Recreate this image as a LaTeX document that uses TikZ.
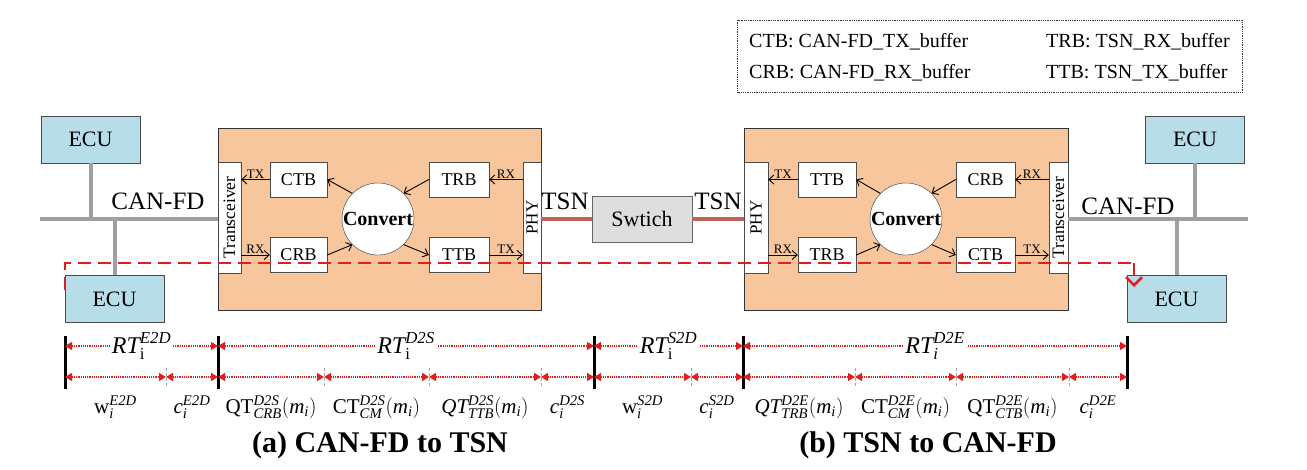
\documentclass[tikz,border=0pt]{standalone}
\usepackage{fix-cm}
\usepackage{fontspec}
\setmainfont{Liberation Serif}
\usetikzlibrary{arrows.meta,calc}
\definecolor{orangebox}{RGB}{248,198,156}
\definecolor{ecublue}{RGB}{183,222,232}
\definecolor{busgrey}{RGB}{160,160,160}
\definecolor{tsnred}{RGB}{192,100,90}
\definecolor{swgrey}{RGB}{222,222,222}
\definecolor{pathred}{RGB}{225,30,30}
\begin{document}
\begin{tikzpicture}[x=1pt,y=-1pt,
  ecu/.style={draw=black!70, fill=ecublue, minimum width=99pt, minimum height=47pt, inner sep=0pt, font=\fontsize{22}{24}\selectfont},
  buf/.style={draw=black!70, fill=white, minimum width=58pt, minimum height=35pt, inner sep=0pt, font=\fontsize{18}{20}\selectfont},
  sidebox/.style={draw=black!70, fill=white, rotate=90, minimum width=111pt, minimum height=23pt, inner sep=0pt, font=\fontsize{17.5}{19}\selectfont},
  gateway/.style={draw=black!80, fill=orangebox, minimum width=323pt, minimum height=182pt, inner sep=0pt},
  conv/.style={circle, draw=black!80, fill=white, minimum size=72pt, inner sep=0pt, font=\bfseries\fontsize{20}{22}\selectfont},
  bus/.style={busgrey, line width=4pt},
  tsnlink/.style={tsnred, line width=4pt},
  iarrow/.style={-{Straight Barb[length=5pt,width=9pt]}, line width=0.9pt},
  txrx/.style={font=\fontsize{13}{14}\selectfont, inner sep=1pt},
  bigtext/.style={font=\fontsize{25}{27}\selectfont, inner sep=0pt},
  legtext/.style={font=\fontsize{20}{22}\selectfont, inner sep=0pt},
  trip/.style={pathred, dash pattern=on 13pt off 7pt, line width=2.5pt},
  tl/.style={pathred, densely dotted, line width=1.2pt, {Triangle[length=7pt,width=8pt]}-{Triangle[length=7pt,width=8pt]}},
  barline/.style={black, line width=3pt},
  tickmark/.style={black!35, densely dashed, line width=1pt},
  lbl/.style={font=\fontsize{21}{23}\selectfont, inner sep=1pt, text=black},
  rtlbl/.style={font=\fontsize{24}{26}\selectfont, fill=white, inner sep=2pt, text=black},
  title/.style={font=\bfseries\fontsize{30}{32}\selectfont, inner sep=0pt}
]
\useasboundingbox (0,0) rectangle (1307,469);

% legend
\node[draw=black!80, densely dotted, line width=0.8pt, minimum width=505pt, minimum height=72pt] (legend) at (990,56) {};
\node[legtext, anchor=west] (leg1) at (749,42) {CTB: CAN-FD\_TX\_buffer};
\node[legtext, anchor=west] (leg2) at (749,73) {CRB: CAN-FD\_RX\_buffer};
\node[legtext, anchor=west] (leg3) at (1046,42) {TRB: TSN\_RX\_buffer};
\node[legtext, anchor=west] (leg4) at (1046,73) {TTB: TSN\_TX\_buffer};

% gateways
\node[gateway] (gw1) at (379.5,219) {};
\node[gateway, minimum width=324pt] (gw2) at (906,219) {};

% left gateway content
\node[sidebox] (trans1) at (229.5,217.5) {Transceiver};
\node[sidebox, minimum height=18pt, font=\fontsize{17}{19}\selectfont] (phy1) at (532,217.5) {PHY};
\node[buf, minimum width=57pt] (ctb1) at (298.5,179.5) {CTB};
\node[buf, minimum width=57pt] (crb1) at (298.5,255) {CRB};
\node[buf, minimum width=60pt] (trb1) at (459,179.5) {TRB};
\node[buf, minimum width=60pt] (ttb1) at (459,255) {TTB};
\node[conv] (conv1) at (378,219) {Convert};

\draw[iarrow] (ctb1.west) -- (trans1.south |- ctb1.west) node[midway, above, txrx] (tx1) {TX};
\draw[iarrow] (trans1.south |- crb1.west) -- (crb1.west) node[midway, above, txrx] (rx1) {RX};
\draw[iarrow] (phy1.north |- trb1.east) -- (trb1.east) node[midway, above, txrx] (rx2) {RX};
\draw[iarrow] (ttb1.east) -- (phy1.north |- ttb1.east) node[midway, above, txrx] (tx2) {TX};
\draw[iarrow] (crb1.east) -- (conv1.225);
\draw[iarrow] (conv1.135) -- (ctb1.east);
\draw[iarrow] (trb1.west) -- (conv1.45);
\draw[iarrow] (conv1.315) -- (ttb1.west);

% right gateway content
\node[sidebox, minimum height=24pt, font=\fontsize{17}{19}\selectfont] (phy2) at (756,217.5) {PHY};
\node[sidebox, minimum height=19pt] (trans2) at (1058.5,217.5) {Transceiver};
\node[buf] (ttb2) at (827,179.5) {TTB};
\node[buf] (trb2) at (827,255) {TRB};
\node[buf, minimum width=59pt] (crb2) at (985.5,179.5) {CRB};
\node[buf, minimum width=59pt] (ctb2) at (985.5,255) {CTB};
\node[conv] (conv2) at (906,219) {Convert};

\draw[iarrow] (ttb2.west) -- (phy2.south |- ttb2.west) node[midway, above, txrx] (tx3) {TX};
\draw[iarrow] (phy2.south |- trb2.west) -- (trb2.west) node[midway, above, txrx] (rx3) {RX};
\draw[iarrow] (trans2.north |- crb2.east) -- (crb2.east) node[midway, above, txrx] (rx4) {RX};
\draw[iarrow] (ctb2.east) -- (trans2.north |- ctb2.east) node[midway, above, txrx] (tx4) {TX};
\draw[iarrow] (trb2.east) -- (conv2.225);
\draw[iarrow] (conv2.135) -- (ttb2.east);
\draw[iarrow] (crb2.west) -- (conv2.45);
\draw[iarrow] (conv2.315) -- (ctb2.west);

% switch and TSN links
\node[draw=black!60, fill=swgrey, minimum width=100pt, minimum height=46pt, inner sep=0pt, font=\fontsize{22}{24}\selectfont] (sw) at (642,219) {Swtich};
\draw[tsnlink] (phy1.south |- sw.west) -- (sw.west);
\draw[tsnlink] (sw.east) -- (phy2.north |- sw.east);
\node[bigtext] (tsn1) at (565,201) {TSN};
\node[bigtext] (tsn2) at (718,201) {TSN};

% CAN-FD buses
\coordinate (busL) at (40,219);
\coordinate (busR) at (1248,219);
\node[ecu] (ecu1) at (90.5,139.5) {ECU};
\node[ecu] (ecu2) at (114.5,299) {ECU};
\node[ecu] (ecu3) at (1195,139.5) {ECU};
\node[ecu] (ecu4) at (1176.5,299) {ECU};
\draw[bus] (busL) -- (trans1.north |- busL);
\draw[bus] (trans2.south |- busR) -- (busR);
\draw[bus] (ecu1.south) -- (ecu1.south |- busL);
\draw[bus] (ecu2.north) -- (ecu2.north |- busL);
\draw[bus] (ecu3.south) -- (ecu3.south |- busR);
\draw[bus] (ecu4.north) -- (ecu4.north |- busR);
\node[bigtext] (can1) at (158,201) {CAN-FD};
\node[bigtext] (can2) at (1128,206) {CAN-FD};

% end-to-end path
\coordinate (pA) at (65,290);
\coordinate (pB) at (65,263);
\coordinate (pC) at (1134,263);
\coordinate (pD) at (1134,287);
\draw[trip] (pA) -- (pB) -- (pC);
\draw[trip, -{Straight Barb[length=8pt,width=16pt]}] (pC) -- (pD);

% timeline
\foreach \n/\x in {1/65,2/218,3/594,4/743,5/1127}{
  \coordinate (b\n) at (\x,346);
  \draw[barline] ($(b\n)+(0,-10)$) -- ($(b\n)+(0,43)$);
}
\foreach \n/\x in {1/65,2/166,3/218,4/324,5/429,6/541,7/594,8/691,9/743,10/855,11/956,12/1069,13/1127}{
  \coordinate (q\n) at (\x,377);
}
\foreach \n in {2,4,5,6,8,10,11,12}{
  \draw[tickmark] ($(q\n)+(0,-9)$) -- ($(q\n)+(0,10)$);
}
\foreach \a/\b in {1/2,2/3,3/4,4/5,5/6,6/7,7/8,8/9,9/10,10/11,11/12,12/13}{
  \draw[tl] (q\a) -- (q\b);
}
\draw[tl] (b1) -- (b2) node[midway, rtlbl] (rt1) {$\mathit{RT}_{\mathrm{i}}^{\mathit{E2D}}$};
\draw[tl] (b2) -- (b3) node[midway, rtlbl] (rt2) {$\mathit{RT}_{\mathrm{i}}^{\mathit{D2S}}$};
\draw[tl] (b3) -- (b4) node[midway, rtlbl] (rt3) {$\mathit{RT}_{\mathrm{i}}^{\mathit{S2D}}$};
\draw[tl] (b4) -- (b5) node[midway, rtlbl] (rt4) {$\mathit{RT}_{\mathit{i}}^{\mathit{D2E}}$};

\node[lbl] (lab1) at ($(q1)!0.5!(q2)+(0,30)$) {$\mathrm{w}_{\mathit{i}}^{\mathit{E2D}}$};
\node[lbl] (lab2) at ($(q2)!0.5!(q3)+(0,30)$) {$\mathit{c}_{\mathit{i}}^{\mathit{E2D}}$};
\node[lbl] (lab3) at ($(q3)!0.5!(q4)+(0,30)$) {$\mathrm{QT}_{\mathit{CRB}}^{\mathit{D2S}}(\mathit{m}_{\mathit{i}})$};
\node[lbl] (lab4) at ($(q4)!0.5!(q5)+(0,30)$) {$\mathrm{CT}_{\mathit{CM}}^{\mathit{D2S}}(\mathit{m}_{\mathit{i}})$};
\node[lbl] (lab5) at ($(q5)!0.5!(q6)+(0,30)$) {$\mathit{QT}_{\mathit{TTB}}^{\mathit{D2S}}(\mathit{m}_{\mathit{i}})$};
\node[lbl] (lab6) at ($(q6)!0.5!(q7)+(0,30)$) {$\mathit{c}_{\mathit{i}}^{\mathit{D2S}}$};
\node[lbl] (lab7) at ($(q7)!0.5!(q8)+(0,30)$) {$\mathrm{w}_{\mathit{i}}^{\mathit{S2D}}$};
\node[lbl] (lab8) at ($(q8)!0.5!(q9)+(0,30)$) {$\mathit{c}_{\mathit{i}}^{\mathit{S2D}}$};
\node[lbl] (lab9) at ($(q9)!0.5!(q10)+(0,30)$) {$\mathit{QT}_{\mathit{TRB}}^{\mathit{D2E}}(\mathit{m}_{\mathit{i}})$};
\node[lbl] (lab10) at ($(q10)!0.5!(q11)+(0,30)$) {$\mathrm{CT}_{\mathit{CM}}^{\mathit{D2E}}(\mathit{m}_{\mathit{i}})$};
\node[lbl] (lab11) at ($(q11)!0.5!(q12)+(0,30)$) {$\mathrm{QT}_{\mathit{CTB}}^{\mathit{D2E}}(\mathit{m}_{\mathit{i}})$};
\node[lbl] (lab12) at ($(q12)!0.5!(q13)+(0,30)$) {$\mathit{c}_{\mathit{i}}^{\mathit{D2E}}$};

% titles
\node[title] (ta) at (380,445) {(a) CAN-FD to TSN};
\node[title] (tb) at (928,445) {(b) TSN to CAN-FD};
\end{tikzpicture}
\end{document}
